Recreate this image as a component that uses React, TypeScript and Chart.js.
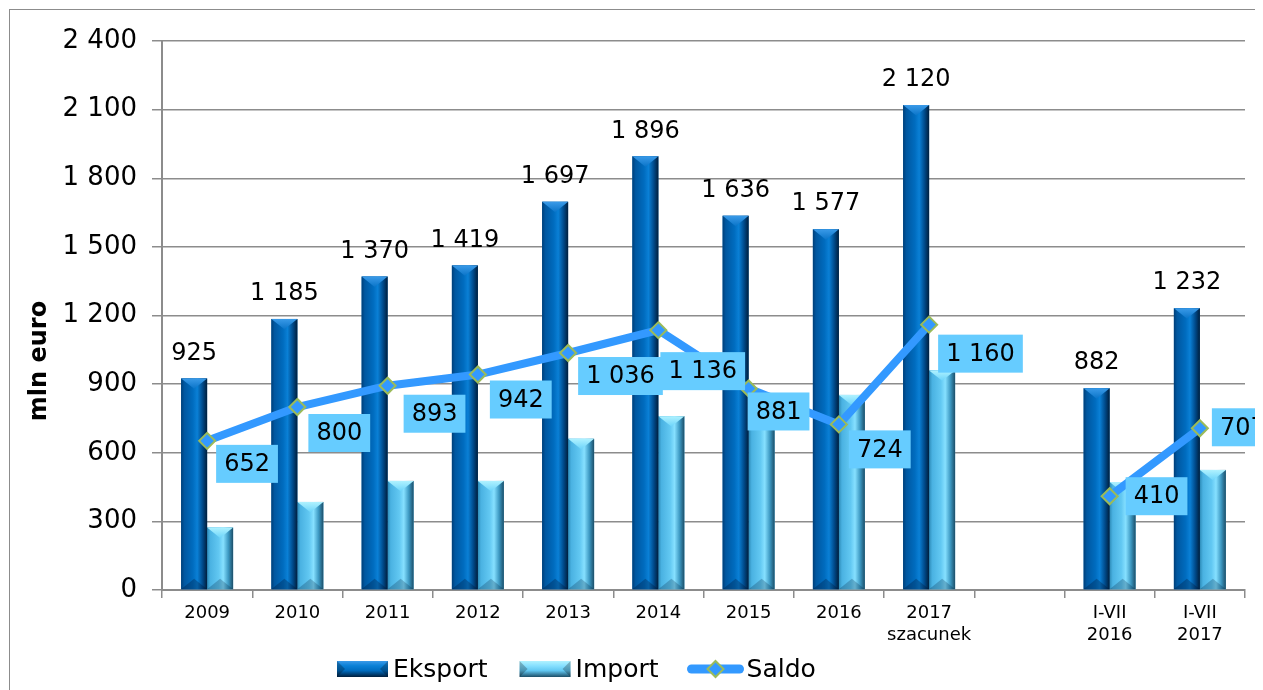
import React, { useEffect, useRef } from 'react';
import { Chart, registerables } from 'chart.js';

Chart.register(...registerables);

const FONT = '"DejaVu Sans", Verdana, sans-serif';

const categories: (string | string[])[] = [
  '2009', '2010', '2011', '2012', '2013', '2014', '2015', '2016',
  ['2017', 'szacunek'], '', ['I-VII', '2016'], ['I-VII', '2017'],
];
const eksport: (number | null)[] = [925, 1185, 1370, 1419, 1697, 1896, 1636, 1577, 2120, null, 882, 1232];
const importVals: (number | null)[] = [273, 385, 477, 477, 661, 760, 755, 853, 960, null, 472, 525];
const saldo: (number | null)[] = [652, 800, 893, 942, 1036, 1136, 881, 724, 1160, null, 410, 707];
const yTicks: number[] = [0, 300, 600, 900, 1200, 1500, 1800, 2100, 2400];
const yTitle = 'mln euro';

// label box placement relative to point (top-left of box)
const saldoLabelOffsets: [number, number][] = [
  [9, 4], [11, 7], [16, 9], [12, 6], [10, 4], [2, 22], [-1, 4], [10, 6], [9, 10], [0, 0], [16, -19], [12, -20],
];

const fmt = (n: number) => String(Math.round(n)).replace(/\B(?=(\d{3})+(?!\d))/g, ' ');

type Pal = { stops: [number, string][]; top0: string; top1: string; bottom: string };
const PAL_EKS: Pal = {
  stops: [[0, '#003F78'], [0.12, '#0057A0'], [0.45, '#006CBF'], [0.62, '#0A80D6'], [0.82, '#004B8C'], [1, '#001E3C']],
  top0: '#3A9AE8', top1: '#0A74C8', bottom: 'rgba(0,20,50,0.3)',
};
const PAL_IMP: Pal = {
  stops: [[0, '#2E8CB8'], [0.12, '#4AB2E2'], [0.45, '#62C8F2'], [0.62, '#86E0FF'], [0.82, '#3C98C2'], [1, '#1C4E68']],
  top0: '#B0F2FF', top1: '#6CD4FA', bottom: 'rgba(0,30,60,0.25)',
};

function drawBevelBar(ctx: CanvasRenderingContext2D, x: number, top: number, bottom: number, w: number, pal: Pal) {
  const l = x - w / 2, r = x + w / 2;
  const h = bottom - top;
  if (h <= 0) return;
  const g = ctx.createLinearGradient(l, 0, r, 0);
  pal.stops.forEach(([o, c]) => g.addColorStop(o, c));
  ctx.fillStyle = g;
  ctx.fillRect(l, top, w, h);
  const bev = Math.min(w * 0.4, h / 2);
  ctx.beginPath();
  ctx.moveTo(l, top); ctx.lineTo(r, top); ctx.lineTo(x, top + bev); ctx.closePath();
  const tg = ctx.createLinearGradient(0, top, 0, top + bev);
  tg.addColorStop(0, pal.top0); tg.addColorStop(1, pal.top1);
  ctx.fillStyle = tg; ctx.fill();
  ctx.beginPath();
  ctx.moveTo(l, bottom); ctx.lineTo(r, bottom); ctx.lineTo(x, bottom - bev); ctx.closePath();
  ctx.fillStyle = pal.bottom; ctx.fill();
}

function drawLegendBox(ctx: CanvasRenderingContext2D, l: number, cy: number, w: number, h: number, pal: Pal) {
  const t = cy - h / 2;
  const g = ctx.createLinearGradient(0, t, 0, t + h);
  g.addColorStop(0, pal.top0);
  g.addColorStop(0.3, pal.stops[3][1]);
  g.addColorStop(0.6, pal.stops[2][1]);
  g.addColorStop(1, pal.stops[5][1]);
  ctx.fillStyle = g;
  ctx.fillRect(l, t, w, h);
  ctx.fillStyle = 'rgba(0,0,0,0.25)';
  ctx.beginPath(); ctx.moveTo(l, t); ctx.lineTo(l + h / 2, cy); ctx.lineTo(l, t + h); ctx.closePath(); ctx.fill();
  ctx.beginPath(); ctx.moveTo(l + w, t); ctx.lineTo(l + w - h / 2, cy); ctx.lineTo(l + w, t + h); ctx.closePath(); ctx.fill();
}

const barStylePlugin = {
  id: 'barStyle',
  afterDatasetDraw(chart: any, args: any) {
    const meta = args.meta;
    if (meta.type !== 'bar') return;
    const pal = args.index === 1 ? PAL_EKS : PAL_IMP;
    const ctx = chart.ctx;
    ctx.save();
    meta.data.forEach((el: any, i: number) => {
      const v = chart.data.datasets[args.index].data[i];
      if (v == null) return;
      const { x, y, base, width } = el.getProps(['x', 'y', 'base', 'width'], true);
      drawBevelBar(ctx, x, y, base, width, pal);
    });
    ctx.restore();
  },
};

const labelsPlugin = {
  id: 'valueLabels',
  afterDraw(chart: any) {
    const ctx = chart.ctx;
    ctx.save();
    // Y title
    ctx.save();
    ctx.translate(30, 351);
    ctx.rotate(-Math.PI / 2);
    ctx.font = `bold 24px ${FONT}`;
    ctx.fillStyle = '#000';
    ctx.textAlign = 'center';
    ctx.textBaseline = 'middle';
    ctx.fillText(yTitle, 0, 0);
    ctx.restore();
    // Eksport labels
    const eMeta = chart.getDatasetMeta(1);
    ctx.font = `24px ${FONT}`;
    ctx.fillStyle = '#000';
    ctx.textAlign = 'center';
    ctx.textBaseline = 'middle';
    eMeta.data.forEach((el: any, i: number) => {
      const v = eksport[i];
      if (v == null) return;
      const { x, y } = el.getProps(['x', 'y'], true);
      ctx.fillText(fmt(v), x, y - 25);
    });
    // Saldo labels
    const sMeta = chart.getDatasetMeta(0);
    sMeta.data.forEach((el: any, i: number) => {
      const v = saldo[i];
      if (v == null) return;
      const { x, y } = el.getProps(['x', 'y'], true);
      const txt = fmt(v);
      const tw = ctx.measureText(txt).width;
      const bw = tw + 16, bh = 38;
      const [dx, dy] = saldoLabelOffsets[i];
      const bx = x + dx, by = y + dy;
      ctx.fillStyle = '#66CCFF';
      ctx.fillRect(bx, by, bw, bh);
      ctx.fillStyle = '#000';
      ctx.fillText(txt, bx + bw / 2, by + bh / 2 + 1);
    });
    // Legend
    const cy = 659;
    let lx = 327;
    ctx.font = `25px ${FONT}`;
    ctx.textAlign = 'left';
    ctx.textBaseline = 'middle';
    drawLegendBox(ctx, lx, cy, 51, 16, PAL_EKS);
    lx += 56;
    ctx.fillStyle = '#000';
    ctx.fillText('Eksport', lx, cy + 1);
    lx += ctx.measureText('Eksport').width + 32;
    drawLegendBox(ctx, lx, cy, 51, 16, PAL_IMP);
    lx += 56;
    ctx.fillStyle = '#000';
    ctx.fillText('Import', lx, cy + 1);
    lx += ctx.measureText('Import').width + 29;
    ctx.strokeStyle = '#3399FF';
    ctx.lineWidth = 9;
    ctx.lineCap = 'round';
    ctx.beginPath(); ctx.moveTo(lx + 4, cy); ctx.lineTo(lx + 52, cy); ctx.stroke();
    const mx = lx + 28;
    ctx.beginPath();
    ctx.moveTo(mx, cy - 8); ctx.lineTo(mx + 8, cy); ctx.lineTo(mx, cy + 8); ctx.lineTo(mx - 8, cy); ctx.closePath();
    ctx.fillStyle = '#3399FF'; ctx.fill();
    ctx.lineWidth = 2; ctx.strokeStyle = '#9BBB59'; ctx.stroke();
    lx += 59;
    ctx.fillStyle = '#000';
    ctx.fillText('Saldo', lx, cy + 1);
    ctx.restore();
  },
};

export default function App() {
  const ref = useRef<HTMLCanvasElement | null>(null);
  useEffect(() => {
    if (!ref.current) return;
    const chart = new Chart(ref.current, {
      type: 'bar',
      data: {
        labels: categories as any,
        datasets: [
          {
            type: 'line',
            label: 'Saldo',
            data: saldo,
            order: 0,
            borderColor: '#3399FF',
            backgroundColor: '#3399FF',
            borderWidth: 8,
            pointStyle: 'rectRot',
            pointRadius: 8,
            pointBackgroundColor: '#3399FF',
            pointBorderColor: '#9BBB59',
            pointBorderWidth: 2,
            spanGaps: false,
            tension: 0,
          } as any,
          {
            label: 'Eksport',
            data: eksport,
            order: 1,
            backgroundColor: '#0066B3',
            categoryPercentage: 0.576,
            barPercentage: 1,
          },
          {
            label: 'Import',
            data: importVals,
            order: 1,
            backgroundColor: '#5BC4F0',
            categoryPercentage: 0.576,
            barPercentage: 1,
          },
        ],
      },
      options: {
        animation: false,
        responsive: true,
        maintainAspectRatio: false,
        layout: { padding: { top: 31, right: 18, left: 0, bottom: 0 } },
        plugins: { legend: { display: false }, tooltip: { enabled: false } },
        scales: {
          x: {
            afterFit: (s: any) => { s.height = 100; },
            grid: { offset: true, drawOnChartArea: false, tickLength: 8, color: '#8c8c8c', lineWidth: 1.5 },
            border: { color: '#8c8c8c', width: 2 },
            ticks: {
              font: { family: FONT, size: 18, lineHeight: 1.25 },
              color: '#000',
              padding: 4,
              maxRotation: 0,
              autoSkip: false,
            },
          },
          y: {
            min: 0,
            max: 2400,
            afterFit: (s: any) => { s.width = 152; },
            afterBuildTicks: (s: any) => { s.ticks = yTicks.map((v) => ({ value: v })); },
            ticks: {
              stepSize: 300,
              callback: (v: any) => fmt(Number(v)),
              font: { family: FONT, size: 26 },
              color: '#000',
              padding: 15,
            },
            grid: { color: '#8c8c8c', lineWidth: 1.5, tickLength: 10 },
            border: { color: '#8c8c8c', width: 2 },
            title: { display: false },
          },
        },
      },
      plugins: [barStylePlugin, labelsPlugin],
    });
    return () => chart.destroy();
  }, []);

  return (
    <div style={{ padding: '1px 0 0 1px', width: 1255, height: 682, boxSizing: 'border-box' }}>
      <div
        style={{
          position: 'relative',
          width: 1254,
          height: 681,
          borderLeft: '1px solid #8c8c8c',
          borderTop: '1px solid #8c8c8c',
          boxSizing: 'border-box',
        }}
      >
        <canvas ref={ref} />
      </div>
    </div>
  );
}
